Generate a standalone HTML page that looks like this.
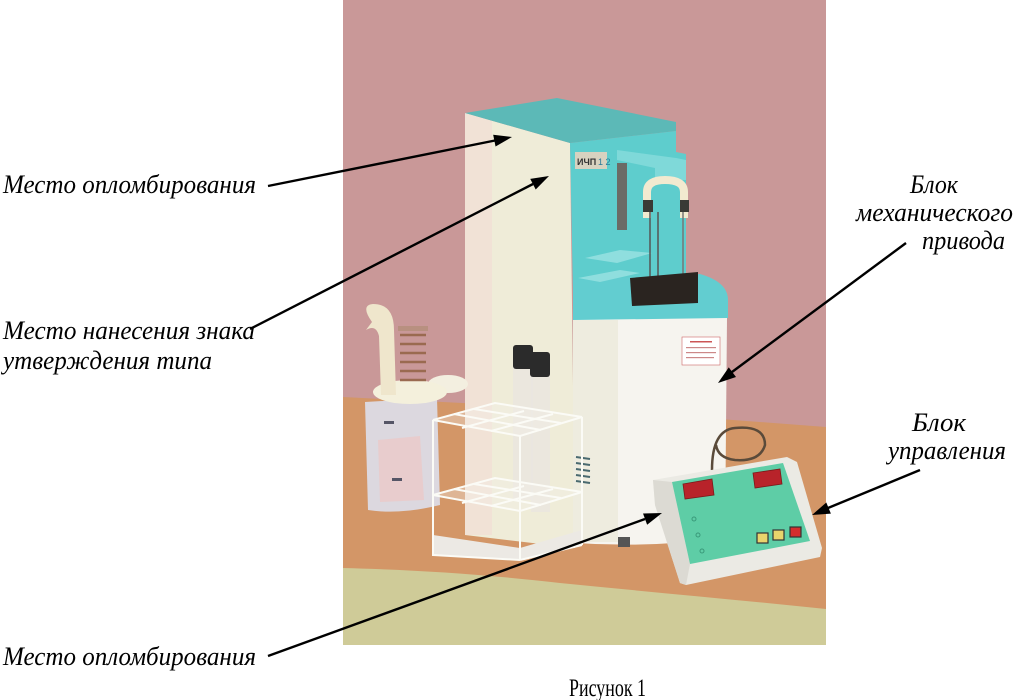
<!DOCTYPE html>
<html><head><meta charset="utf-8"><style>
html,body{margin:0;padding:0;background:#fff;}
svg{display:block;}
.lbl{font-family:"Liberation Serif","DejaVu Serif",serif;font-style:italic;font-size:26px;fill:#000;}
.cap{font-family:"Liberation Serif","DejaVu Serif",serif;font-size:25px;fill:#000;}
</style></head><body>
<svg width="1015" height="700" viewBox="0 0 1015 700" xmlns="http://www.w3.org/2000/svg">
<rect width="1015" height="700" fill="#fff"/>
<!-- photo background -->
<rect x="343" y="0" width="483" height="645" fill="#c99898"/>
<polygon points="343,397 600,410 826,427 826,645 343,645" fill="#d39667"/>
<path d="M343,568 C420,570 480,574 560,583 C650,592 740,600 826,609 L826,645 L343,645 Z" fill="#cfcb98"/>

<!-- column -->
<polygon points="465,113 570,143 575,548 465,535" fill="#efecd8"/>
<polygon points="465,113 492,121 492,535 465,535" fill="#f1e2d6"/>
<polygon points="465,113 557,98 676,122 676,131 570,143" fill="#5cb9b7"/>
<polygon points="570,143 676,131 676,152 686,154 686,292 573,292" fill="#5ecdcd"/>
<!-- lower cyan base -->
<path d="M573,280 L700,274 Q728,282 728,300 L728,318 Q700,324 650,324 L573,322 Z" fill="#62cdd0"/>
<!-- cylinder -->
<path d="M573,320 L727,318 L725,538 Q650,548 575,543 Z" fill="#f6f4ef"/>
<rect x="573" y="320" width="45" height="222" fill="#eeecdf"/>
<!-- shelves -->
<polygon points="585,258 620,250 652,253 617,263" fill="#8fdede"/>
<polygon points="578,278 620,270 640,273 600,282" fill="#8fdede"/>
<!-- label -->
<rect x="575" y="152" width="32" height="17" fill="#d8d2c0"/>
<text x="577" y="165" font-family="Liberation Sans,sans-serif" font-size="9" font-weight="bold" fill="#333">ИЧП</text>
<text x="598" y="165" font-family="Liberation Sans,sans-serif" font-size="9" fill="#2a7a9a">1 2</text>
<!-- slot -->
<rect x="617" y="163" width="10" height="67" fill="#6b6b66"/>
<!-- arm -->
<polygon points="617,150 676,158 686,160 686,180 655,182 655,168 617,160" fill="#7fd9d9"/>
<!-- U holder -->
<path d="M647,218 L647,192 Q647,180 665,180 Q684,180 684,192 L684,218" stroke="#f2ead0" stroke-width="8" fill="none"/>
<rect x="643" y="200" width="10" height="12" fill="#3a3a36"/>
<rect x="680" y="200" width="9" height="12" fill="#3a3a36"/>
<!-- rods -->
<line x1="650" y1="212" x2="650" y2="300" stroke="#555" stroke-width="1.5"/>
<line x1="658" y1="212" x2="658" y2="292" stroke="#555" stroke-width="1.5"/>
<line x1="683" y1="212" x2="683" y2="300" stroke="#777" stroke-width="1.5"/>
<!-- beaker -->
<path d="M630,278 L698,272 L698,303 L632,306 Z" fill="#2a2420"/>
<!-- sticker -->
<rect x="682" y="337" width="38" height="28" fill="#fff" stroke="#c66" stroke-width="0.6"/>
<rect x="690" y="341" width="22" height="1.5" fill="#c55"/>
<rect x="686" y="347" width="30" height="1.2" fill="#c88"/>
<rect x="686" y="352" width="30" height="1.2" fill="#c88"/>
<rect x="686" y="357" width="28" height="1.2" fill="#c88"/>
<!-- cable -->
<path d="M712,470 Q712,430 735,428 Q765,425 765,445 Q760,462 735,460 Q718,458 716,445" stroke="#5a4a3a" stroke-width="2.5" fill="none"/>
<!-- feet -->
<rect x="618" y="537" width="12" height="10" fill="#555"/>
<!-- vents -->
<g stroke="#4a6a70" stroke-width="2">
<line x1="576" y1="457" x2="590" y2="459"/><line x1="576" y1="463" x2="590" y2="465"/>
<line x1="576" y1="469" x2="590" y2="471"/><line x1="576" y1="475" x2="590" y2="477"/>
<line x1="576" y1="481" x2="590" y2="483"/>
</g>

<!-- bottle -->
<path d="M365,402 L437,398 L440,505 Q400,515 368,510 Z" fill="#dcd8df"/>
<path d="M378,440 L420,436 L424,500 L380,502 Z" fill="#ecc8c4" opacity="0.7"/>
<rect x="384" y="421" width="10" height="3" fill="#556"/>
<rect x="392" y="478" width="10" height="3" fill="#556"/>
<ellipse cx="448" cy="384" rx="20" ry="9" fill="#f3efe0"/>
<ellipse cx="410" cy="392" rx="37" ry="12" fill="#f4f0dc"/>
<g stroke="#9a6a50" stroke-width="2.5">
<line x1="400" y1="335" x2="426" y2="335"/><line x1="400" y1="344" x2="426" y2="344"/>
<line x1="400" y1="353" x2="426" y2="353"/><line x1="400" y1="362" x2="426" y2="362"/>
<line x1="400" y1="371" x2="426" y2="371"/><line x1="400" y1="380" x2="426" y2="380"/>
</g>
<rect x="398" y="326" width="30" height="5" fill="#b89080"/>
<path d="M372,322 Q360,305 373,304 Q394,304 394,330 L396,395 L381,395 L379,336 Q376,324 366,330 Z" fill="#efe6cc"/>

<!-- test tubes -->
<rect x="513" y="355" width="20" height="145" fill="#e9e6e0" opacity="0.75"/>
<rect x="531" y="362" width="19" height="150" fill="#e9e6e0" opacity="0.75"/>
<rect x="513" y="345" width="20" height="24" rx="3" fill="#2b2b2b"/>
<rect x="530" y="352" width="20" height="25" rx="3" fill="#2b2b2b"/>

<!-- rack -->
<polygon points="433,420 495,403 582,417 520,436" fill="#f4f1ec" opacity="0.35"/>
<polygon points="433,495 495,478 582,492 520,511" fill="#f4f1ec" opacity="0.35"/>
<polygon points="433,535 520,548 582,530 582,545 520,560 433,555" fill="#ece9e4"/>
<g stroke="#fbfbf6" stroke-width="2" fill="none">
<polygon points="433,420 495,403 582,417 520,436"/>
<line x1="454" y1="414" x2="541" y2="430"/><line x1="474" y1="409" x2="561" y2="423"/>
<line x1="462" y1="428" x2="524" y2="411"/><line x1="491" y1="431" x2="553" y2="414"/>
<polygon points="433,495 495,478 582,492 520,511"/>
<line x1="454" y1="489" x2="541" y2="505"/><line x1="474" y1="484" x2="561" y2="498"/>
<line x1="462" y1="503" x2="524" y2="486"/><line x1="491" y1="506" x2="553" y2="489"/>
<line x1="433" y1="420" x2="433" y2="556"/>
<line x1="520" y1="436" x2="520" y2="560"/>
<line x1="582" y1="417" x2="582" y2="545"/>
<line x1="433" y1="555" x2="520" y2="560"/>
<line x1="520" y1="560" x2="582" y2="545"/>
</g>

<!-- control box -->
<polygon points="653,480 787,457 797,462 822,548 820,557 686,585 680,583 655,505" fill="#ebeae4"/>
<polygon points="653,480 672,482 690,564 686,585 680,583 655,505" fill="#dcdad3"/>
<polygon points="672,482 783,463 810,541 690,564" fill="#5ecda6"/>
<polygon points="683,484 712,479 714,495 685,499" fill="#b8232a" stroke="#7a1a1a" stroke-width="0.8"/>
<polygon points="753,473 780,469 782,484 755,488" fill="#b8232a" stroke="#7a1a1a" stroke-width="0.8"/>
<g fill="none" stroke="#3a9a7a" stroke-width="1">
<circle cx="694" cy="519" r="2"/><circle cx="698" cy="535" r="2"/><circle cx="702" cy="551" r="2"/>
</g>
<rect x="757" y="533" width="11" height="10" fill="#e9d46c" stroke="#333" stroke-width="1.2"/>
<rect x="773" y="530" width="11" height="10" fill="#e9d46c" stroke="#333" stroke-width="1.2"/>
<rect x="790" y="527" width="11" height="10" fill="#d42e2e" stroke="#333" stroke-width="1.2"/>

<!-- arrows -->
<g stroke="#000" stroke-width="2.4">
<line x1="268" y1="186" x2="495" y2="140.5"/>
<line x1="250" y1="329" x2="533" y2="184"/>
<line x1="906" y1="243" x2="732" y2="372"/>
<line x1="920" y1="470" x2="828" y2="508"/>
<line x1="268" y1="656" x2="645" y2="519"/>
</g>
<g fill="#000">
<polygon points="512,137 495.55,146.45 493.17,134.69"/>
<polygon points="549,176 535.71,189.54 530.25,178.86"/>
<polygon points="718,383 736,376.99 728.79,367.39"/>
<polygon points="812,515 830.9,513.6 826.3,502.5"/>
<polygon points="662,513 647.13,524.78 643.03,513.5"/>
</g>

<!-- labels -->
<text class="lbl" x="3" y="193" textLength="253" lengthAdjust="spacingAndGlyphs">Место опломбирования</text>
<text class="lbl" x="3" y="339" textLength="252" lengthAdjust="spacingAndGlyphs">Место нанесения знака</text>
<text class="lbl" x="3" y="369" textLength="209" lengthAdjust="spacingAndGlyphs">утверждения типа</text>
<text class="lbl" x="910" y="193" textLength="48" lengthAdjust="spacingAndGlyphs">Блок</text>
<text class="lbl" x="856" y="221" textLength="157" lengthAdjust="spacingAndGlyphs">механического</text>
<text class="lbl" x="922" y="249" textLength="83" lengthAdjust="spacingAndGlyphs">привода</text>
<text class="lbl" x="912" y="431" textLength="54" lengthAdjust="spacingAndGlyphs">Блок</text>
<text class="lbl" x="888" y="459" textLength="118" lengthAdjust="spacingAndGlyphs">управления</text>
<text class="lbl" x="3" y="665" textLength="253" lengthAdjust="spacingAndGlyphs">Место опломбирования</text>
<text class="cap" x="569" y="696" textLength="77" lengthAdjust="spacingAndGlyphs">Рисунок 1</text>
</svg>
</body></html>
